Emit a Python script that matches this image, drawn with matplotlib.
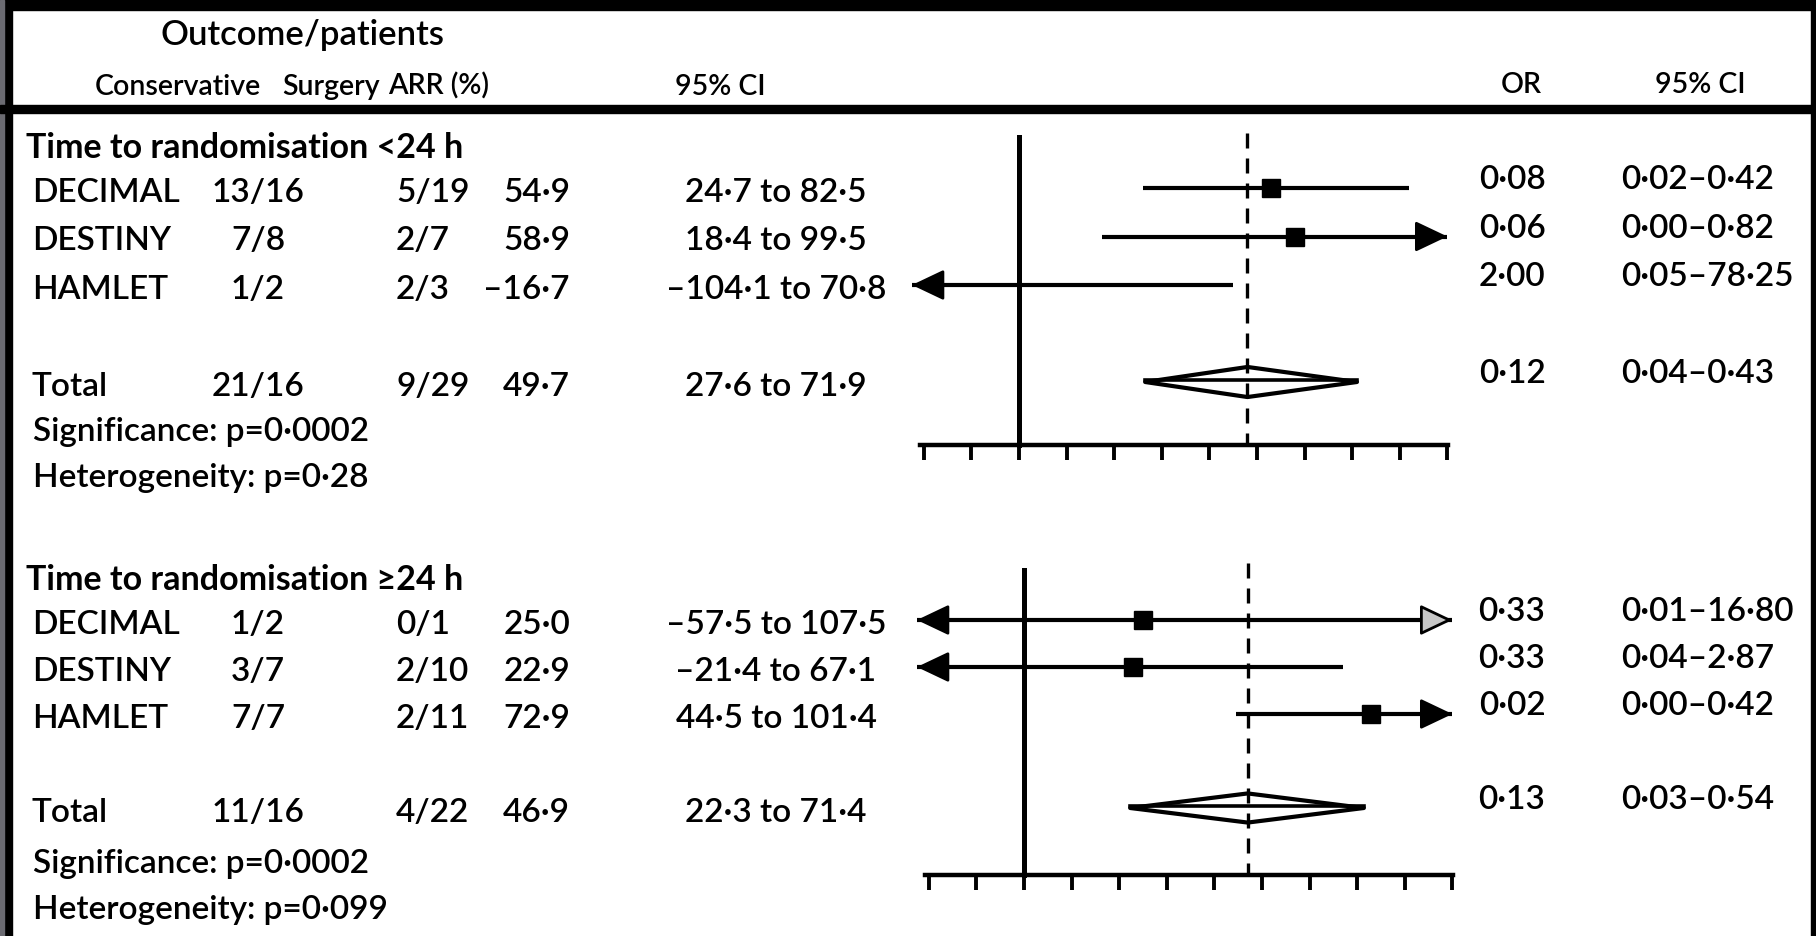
import matplotlib
import numpy as np

matplotlib.use("Agg")
import matplotlib.pyplot as plt
from matplotlib.patches import Polygon, Rectangle

FIG_W, FIG_H = 1816, 936

# ---- table data ----
TRIALS = ["DECIMAL", "DESTINY", "HAMLET"]
SUBGROUPS = ["Time to randomisation <24 h", "Time to randomisation \u226524 h"]

CONSERVATIVE = [["13/16", "7/8", "1/2", "21/16"], ["1/2", "3/7", "7/7", "11/16"]]
SURGERY = [["5/19", "2/7", "2/3", "9/29"], ["0/1", "2/10", "2/11", "4/22"]]
ARR_TEXT = [["54·9", "58·9", "–16·7", "49·7"], ["25·0", "22·9", "72·9", "46·9"]]
ARR_CI_TEXT = [
    ["24·7 to 82·5", "18·4 to 99·5", "–104·1 to 70·8", "27·6 to 71·9"],
    ["–57·5 to 107·5", "–21·4 to 67·1", "44·5 to 101·4", "22·3 to 71·4"],
]
OR_TEXT = [["0·08", "0·06", "2·00", "0·12"], ["0·33", "0·33", "0·02", "0·13"]]
OR_CI_TEXT = [
    ["0·02–0·42", "0·00–0·82", "0·05–78·25", "0·04–0·43"],
    ["0·01–16·80", "0·04–2·87", "0·00–0·42", "0·03–0·54"],
]
SIGNIFICANCE = ["Significance: p=0·0002", "Significance: p=0·0002"]
HETEROGENEITY = ["Heterogeneity: p=0·28", "Heterogeneity: p=0·099"]

# ---- marks as drawn in the figure (ARR, %) ----
ARR_EST = [[53.0, 58.0, np.nan], [25.0, 22.9, 72.9]]
ARR_LO = [[26.0, 17.5, -104.1], [-57.5, -21.4, 44.5]]
ARR_HI = [[82.0, 99.5, 45.0], [107.5, 67.1, 101.4]]
POOLED_LO = [26.5, 22.3]
POOLED_EST = [48.0, 47.0]
POOLED_HI = [71.0, 71.4]
TICKS = np.arange(-20, 91, 10)

# values beyond these get an arrow head at the axis end
CLIP_L, CLIP_R = -20.0, 88.0
TIP_L, TIP_R = -22.5, 90.0
OPEN_ARROWS = {(1, 0)}

# pixel layout of each panel: zero line x, first row y, row step, axis y, line tops
PANELS = [
    dict(x0=1019, y0=188, dy=48.5, axis_y=445, solid_top=137, dash_top=133),
    dict(x0=1024, y0=620, dy=47.0, axis_y=875, solid_top=570, dash_top=563),
]
PX_PER_PCT = 4.76
TOTAL_ROW = 4

plt.rcParams["font.family"] = ["Lato", "DejaVu Sans"]
plt.rcParams["font.size"] = 24
BODY = dict(fontweight="semibold")


def fx(x):
    return x / FIG_W


def fy(y):
    return 1 - y / FIG_H


def put(fig, x, y, s, ha="left", **kw):
    fig.text(fx(x), fy(y), s, ha=ha, va="baseline", **kw)


def arrow_head(ax, x_tip, y, direction, face):
    ax.annotate(
        "",
        xy=(x_tip, y),
        xytext=(x_tip - direction * 6, y),
        arrowprops=dict(
            arrowstyle="-|>,head_length=2.0,head_width=0.95",
            mutation_scale=10,
            lw=2,
            ec="k",
            fc=face,
            shrinkA=0,
            shrinkB=0,
        ),
        zorder=6,
    )


def draw_panel(fig, k):
    p = PANELS[k]
    xl, xr = -25, 95
    r_top, r_bot = -1.3, 5.8
    left = p["x0"] + xl * PX_PER_PCT
    width = (xr - xl) * PX_PER_PCT
    top = p["y0"] + r_top * p["dy"]
    bottom = p["y0"] + r_bot * p["dy"]
    ax = fig.add_axes([fx(left), fy(bottom), width / FIG_W, (bottom - top) / FIG_H])
    ax.set_xlim(xl, xr)
    ax.set_ylim(r_bot, r_top)
    ax.patch.set_alpha(0)

    to_row = lambda y: (y - p["y0"]) / p["dy"]
    axis_row = to_row(p["axis_y"])

    for side in ("top", "right"):
        ax.spines[side].set_visible(False)
    ax.spines["left"].set_position(("data", 0))
    ax.spines["left"].set_bounds(to_row(p["solid_top"]), axis_row)
    ax.spines["bottom"].set_position(("data", axis_row))
    ax.spines["bottom"].set_bounds(-20.8, 90.2)
    ax.spines["left"].set_linewidth(3.6)
    ax.spines["bottom"].set_linewidth(3.2)
    ax.set_yticks([])
    ax.set_xticks(TICKS)
    ax.tick_params(axis="x", direction="out", length=11, width=2.8, labelbottom=False)

    ax.vlines(POOLED_EST[k], to_row(p["dash_top"]), axis_row, colors="k",
              linestyles=(0, (4.5, 3)), lw=2.4, zorder=5)

    for i in range(len(TRIALS)):
        lo, hi, est = ARR_LO[k][i], ARR_HI[k][i], ARR_EST[k][i]
        face = "#c8c8c8" if (k, i) in OPEN_ARROWS else "k"
        l_draw = TIP_L if lo < CLIP_L else lo
        h_draw = TIP_R if hi > CLIP_R else hi
        ax.plot([l_draw, h_draw], [i, i], color="k", lw=3, solid_capstyle="butt", zorder=4)
        if lo < CLIP_L:
            arrow_head(ax, TIP_L, i, -1, "k")
        if hi > CLIP_R:
            arrow_head(ax, TIP_R, i, 1, face)
        if not np.isnan(est):
            ax.plot(est, i, "s", color="k", ms=13.5, zorder=6)

    y = TOTAL_ROW
    h = 0.31
    pl, pe, ph = POOLED_LO[k], POOLED_EST[k], POOLED_HI[k]
    ax.add_patch(Polygon([(pl, y), (pe, y - h), (ph, y), (pe, y + h)], closed=True,
                         fc="white", ec="k", lw=3, joinstyle="round", zorder=3))
    ax.plot([pl, ph], [y - 0.05, y - 0.05], color="k", lw=2.6, zorder=4)
    return ax


def draw_text(fig, k):
    p = PANELS[k]
    row_y = lambda r: p["y0"] + r * p["dy"]
    put(fig, 26, p["y0"] - 30, SUBGROUPS[k], fontweight="bold", fontsize=24.5)
    rows = list(range(len(TRIALS))) + [TOTAL_ROW]
    names = TRIALS + ["Total"]
    for j, r in enumerate(rows):
        yb = row_y(r) + 14
        put(fig, 32, yb, names[j], **BODY)
        put(fig, 258, yb, CONSERVATIVE[k][j], ha="center", **BODY)
        put(fig, 396, yb, SURGERY[k][j], **BODY)
        put(fig, 570, yb, ARR_TEXT[k][j], ha="right", **BODY)
        put(fig, 776, yb, ARR_CI_TEXT[k][j], ha="center", **BODY)
        yr = row_y(r) + 1
        put(fig, 1512, yr, OR_TEXT[k][j], ha="center", **BODY)
        put(fig, 1621, yr, OR_CI_TEXT[k][j], **BODY)
    put(fig, 33, p["y0"] + 253, SIGNIFICANCE[k], **BODY)
    put(fig, 33, p["y0"] + 299, HETEROGENEITY[k], **BODY)


fig = plt.figure(figsize=(FIG_W / 100, FIG_H / 100), dpi=100, facecolor="white")

# scan frame
frame = [
    (0, 0, FIG_W, 10, "black"),
    (0, 0, 12, FIG_H, "black"),
    (0, 0, 4, FIG_H, "#6b6b72"),
    (1811, 0, 5, FIG_H, "black"),
    (0, 105, FIG_W, 8, "black"),
]
for x, y, w, h, c in frame:
    fig.patches.append(Rectangle((fx(x), fy(y + h)), w / FIG_W, h / FIG_H,
                                 transform=fig.transFigure, color=c, zorder=0))

# header
HEAD = dict(fontweight="semibold", fontsize=20.5)
put(fig, 303, 45, "Outcome/patients", ha="center", fontweight="semibold", fontsize=25)
put(fig, 178, 95, "Conservative", ha="center", **HEAD)
put(fig, 331, 95, "Surgery", ha="center", **HEAD)
put(fig, 439, 95, "ARR (%)", ha="center", **HEAD)
put(fig, 720, 95, "95% CI", ha="center", **HEAD)
put(fig, 1521, 93, "OR", ha="center", **HEAD)
put(fig, 1700, 93, "95% CI", ha="center", **HEAD)

for k in range(2):
    draw_panel(fig, k)
    draw_text(fig, k)

fig.savefig("out.png", dpi=100, facecolor=fig.get_facecolor())
